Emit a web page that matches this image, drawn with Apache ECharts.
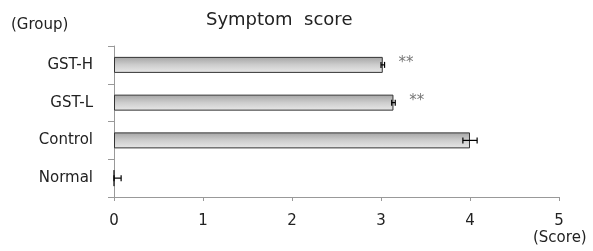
<!DOCTYPE html>
<html>
<head>
<meta charset="utf-8">
<script src="https://cdn.jsdelivr.net/npm/echarts@6/dist/echarts.min.js"></script>
<style>html,body{margin:0;padding:0;background:#fff}#c{width:593px;height:251px}</style>
</head>
<body>
<div id="c"></div>
<script>
const categories = ['Normal', 'Control', 'GST-L', 'GST-H'];
const scores = [0, 4.0, 3.14, 3.02];
const errors = [0.08, 0.08, 0.02, 0.02];
const significance = ['', '', '**', '**'];
const xTicks = [0, 1, 2, 3, 4, 5];

const FONT = '"DejaVu Sans", "Noto Sans", sans-serif';
const chart = echarts.init(document.getElementById('c'), null, {renderer: 'canvas'});

const errData = scores.map((v, i) => [v, i, errors[i], significance[i]]);

chart.setOption({
  animation: false,
  title: {
    text: 'Symptom  score',
    left: 201, top: 6,
    textStyle: {fontFamily: FONT, fontSize: 18, fontWeight: 'normal', color: '#222'}
  },
  graphic: [
    {type: 'text', left: 11, top: 18, style: {text: '(Group)', font: '15px ' + FONT, fill: '#222'}},
    {type: 'text', left: 533, top: 231, style: {text: '(Score)', font: '15px ' + FONT, fill: '#222'}}
  ],
  grid: {left: 114, right: 34, top: 46, bottom: 54},
  xAxis: {
    type: 'value', min: xTicks[0], max: xTicks[xTicks.length - 1], interval: 1,
    splitLine: {show: false},
    axisLine: {show: true, lineStyle: {color: '#999'}},
    axisTick: {show: true, length: 4, lineStyle: {color: '#999'}},
    axisLabel: {margin: 17, fontFamily: FONT, fontSize: 15, color: '#222'}
  },
  yAxis: {
    type: 'category', data: categories,
    axisLine: {show: true, lineStyle: {color: '#999'}},
    axisTick: {show: true, length: 6, lineStyle: {color: '#999'}},
    axisLabel: {margin: 21, fontFamily: FONT, fontSize: 15, color: '#222'}
  },
  series: [
    {
      type: 'bar', data: scores, barWidth: 16,
      itemStyle: {
        color: {type: 'linear', x: 0, y: 0, x2: 0, y2: 1,
          colorStops: [{offset: 0, color: '#a4a4a4'}, {offset: 0.5, color: '#cdcdcd'}, {offset: 1, color: '#e8e8e8'}]},
        borderColor: '#333', borderWidth: 1
      }
    },
    {
      type: 'custom', data: errData, z: 10,
      renderItem: function (params, api) {
        const v = api.value(0), idx = api.value(1), e = api.value(2);
        const sig = errData[params.dataIndex][3];
        const lo = api.coord([Math.max(0, v - e), idx]);
        const hi = api.coord([v + e, idx]);
        const y = hi[1];
        const h = 3;
        const style = {stroke: '#000', lineWidth: 1.2};
        const children = [
          {type: 'line', shape: {x1: lo[0], y1: y, x2: hi[0], y2: y}, style: style},
          {type: 'line', shape: {x1: hi[0], y1: y - h, x2: hi[0], y2: y + h}, style: style},
          {type: 'line', shape: {x1: lo[0], y1: y - h, x2: lo[0], y2: y + h}, style: style}
        ];
        if (sig) {
          children.push({type: 'text', x: hi[0] + 14, y: y - 2,
            style: {text: sig, font: '15px ' + FONT, fill: '#777', textVerticalAlign: 'middle'}});
        }
        return {type: 'group', children: children};
      }
    }
  ]
});
</script>
</body>
</html>
